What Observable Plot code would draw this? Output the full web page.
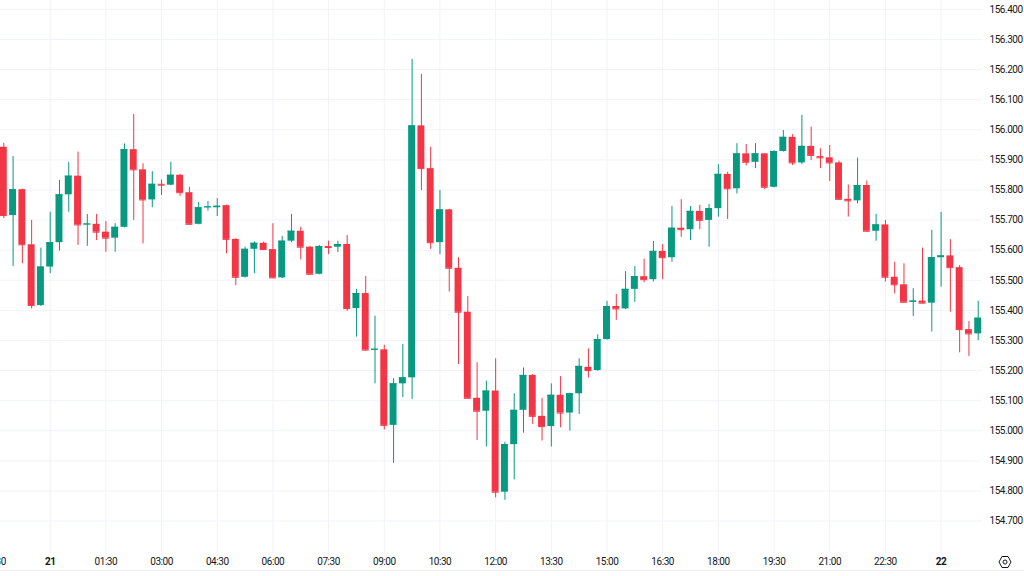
<!DOCTYPE html>
<html><head><meta charset="utf-8">
<script src="https://cdn.jsdelivr.net/npm/d3@7"></script>
<script src="https://cdn.jsdelivr.net/npm/@observablehq/plot@0.6"></script>
<style>
body{margin:0;background:#fff;overflow:hidden}
#wrap{position:relative;width:1024px;height:576px;overflow:hidden}
#wrap svg.plot{overflow:hidden;display:block}
#sep{position:absolute;left:0;top:570px;width:1024px;height:1px;background:#eceef2}
#gear{position:absolute;left:998px;top:555px}
</style></head><body><div id="wrap"><div id="sep"></div></div>
<script>
// 15-minute candles, first candle at 22:45 on the 20th
const startTime = "2024-05-20T22:45:00Z";
const stepMinutes = 15;
const open = [155.942,155.715,155.801,155.618,155.416,155.544,155.625,155.784,155.846,155.684,
155.686,155.660,155.640,155.676,155.934,155.867,155.767,155.819,155.816,155.849,
155.791,155.686,155.741,155.741,155.748,155.636,155.510,155.603,155.623,155.602,
155.508,155.630,155.663,155.610,155.520,155.612,155.610,155.619,155.406,155.456,
155.268,155.269,155.018,155.156,155.176,156.013,155.871,155.625,155.734,155.540,
155.394,155.108,155.065,155.132,154.796,154.954,155.068,155.184,155.048,155.014,
155.118,155.059,155.123,155.211,155.200,155.303,155.413,155.405,155.470,155.512,
155.502,155.596,155.575,155.673,155.668,155.729,155.699,155.738,155.852,155.804,
155.920,155.892,155.920,155.809,155.928,155.975,155.890,155.945,155.911,155.907,
155.890,155.769,155.764,155.815,155.663,155.684,155.510,155.485,155.427,155.431,
155.424,155.575,155.581,155.542,155.336,155.322];
const high = [155.955,155.911,155.803,155.699,155.607,155.726,155.832,155.892,155.926,155.719,
155.719,155.695,155.688,155.953,156.051,155.887,155.861,155.834,155.892,155.852,
155.809,155.759,155.762,155.771,155.750,155.638,155.610,155.628,155.627,155.688,
155.646,155.719,155.676,155.612,155.616,155.630,155.630,155.649,155.470,155.513,
155.381,155.284,155.173,155.287,156.234,156.184,155.942,155.798,155.736,155.575,
155.446,155.226,155.165,155.239,154.962,155.123,155.209,155.187,155.108,155.156,
155.180,155.125,155.239,155.272,155.319,155.430,155.453,155.529,155.546,155.570,
155.629,155.619,155.745,155.768,155.745,155.749,155.752,155.884,155.859,155.954,
155.951,155.954,155.921,155.930,155.998,155.984,156.048,156.009,155.937,155.948,
155.896,155.817,155.906,155.830,155.719,155.699,155.560,155.555,155.472,155.607,
155.666,155.726,155.635,155.549,155.363,155.430];
const low = [155.705,155.546,155.555,155.405,155.413,155.522,155.597,155.726,155.616,155.613,
155.632,155.593,155.593,155.674,155.699,155.621,155.741,155.782,155.814,155.779,
155.684,155.684,155.730,155.712,155.588,155.482,155.508,155.522,155.599,155.506,
155.506,155.625,155.568,155.518,155.518,155.585,155.592,155.397,155.311,155.266,
155.156,155.003,154.892,155.110,155.104,155.798,155.603,155.585,155.461,155.220,
155.106,154.968,154.946,154.777,154.769,154.837,154.992,155.021,154.966,154.946,
155.010,154.999,155.054,155.175,155.198,155.301,155.367,155.403,155.427,155.492,
155.494,155.502,155.560,155.643,155.632,155.668,155.610,155.710,155.702,155.787,
155.880,155.871,155.801,155.807,155.926,155.881,155.884,155.898,155.871,155.828,
155.767,155.710,155.754,155.661,155.630,155.494,155.455,155.425,155.380,155.422,
155.328,155.477,155.394,155.259,155.247,155.300];
const close = [155.715,155.801,155.618,155.416,155.544,155.625,155.784,155.846,155.684,155.687,
155.660,155.640,155.676,155.934,155.867,155.767,155.819,155.816,155.849,155.791,
155.686,155.741,155.744,155.746,155.636,155.510,155.603,155.623,155.602,155.508,
155.630,155.663,155.610,155.520,155.612,155.609,155.619,155.406,155.456,155.268,
155.271,155.018,155.156,155.176,156.013,155.871,155.625,155.734,155.540,155.394,
155.108,155.065,155.132,154.796,154.954,155.068,155.184,155.048,155.014,155.118,
155.059,155.123,155.214,155.200,155.303,155.413,155.405,155.470,155.512,155.502,
155.596,155.575,155.673,155.668,155.729,155.699,155.738,155.852,155.804,155.920,
155.892,155.920,155.809,155.928,155.975,155.890,155.945,155.915,155.907,155.890,
155.769,155.764,155.815,155.663,155.684,155.510,155.485,155.427,155.431,155.424,
155.575,155.581,155.542,155.336,155.322,155.374];

const priceTicks = [154.7,154.8,154.9,155.0,155.1,155.2,155.3,155.4,155.5,155.6,155.7,155.8,155.9,156.0,156.1,156.2,156.3,156.4];
const timeTicks = ["2024-05-20T22:30Z","2024-05-21T00:00Z","2024-05-21T01:30Z","2024-05-21T03:00Z","2024-05-21T04:30Z",
"2024-05-21T06:00Z","2024-05-21T07:30Z","2024-05-21T09:00Z","2024-05-21T10:30Z","2024-05-21T12:00Z",
"2024-05-21T13:30Z","2024-05-21T15:00Z","2024-05-21T16:30Z","2024-05-21T18:00Z","2024-05-21T19:30Z",
"2024-05-21T21:00Z","2024-05-21T22:30Z","2024-05-22T00:00Z"];
const xDomain = ["2024-05-20T22:39:40Z","2024-05-22T01:06:56Z"];
const yDomain = [154.589, 156.4296];

const UP = "#089981", DOWN = "#f23645";
const t0 = new Date(startTime).getTime();
const halfBody = 5.6 * 60000;
const candles = open.map((o, i) => {
  const t = new Date(t0 + i * stepMinutes * 60000);
  return {t, t1: new Date(+t - halfBody), t2: new Date(+t + halfBody),
    open: o, high: high[i], low: low[i], close: close[i],
    color: close[i] >= o ? UP : DOWN};
});
const tickDates = timeTicks.map(d => new Date(d));
const isDay = d => d.getUTCHours() === 0 && d.getUTCMinutes() === 0;
const dayTicks = tickDates.filter(isDay);
const hourTicks = tickDates.filter(d => !isDay(d));
const fmtHM = d3.utcFormat("%H:%M");

const chart = Plot.plot({
  width: 1024, height: 576,
  marginLeft: 0, marginRight: 42, marginTop: 0, marginBottom: 22,
  style: {fontFamily: "Roboto, 'Noto Sans', sans-serif", fontSize: "10px", letterSpacing: "-0.45px", color: "#131722", background: "#fff"},
  x: {type: "utc", domain: xDomain.map(d => new Date(d)), axis: null},
  y: {domain: yDomain, axis: null},
  marks: [
    Plot.gridY(priceTicks, {stroke: "#f0f3fa", strokeOpacity: 1}),
    Plot.gridX(tickDates, {stroke: "#f0f3fa", strokeOpacity: 1}),
    Plot.axisY(priceTicks, {anchor: "right", tickSize: 0, tickPadding: 7, tickFormat: d => d.toFixed(3), fill: "#131722"}),
    Plot.axisX(hourTicks, {anchor: "bottom", tickSize: 0, tickPadding: 3, tickFormat: fmtHM, fill: "#131722"}),
    Plot.axisX(dayTicks, {anchor: "bottom", tickSize: 0, tickPadding: 3, tickFormat: d => String(d.getUTCDate()), fill: "#131722", fontWeight: "bold"}),
    Plot.ruleX(candles, {x: "t", y1: "low", y2: "high", stroke: "color", strokeWidth: 1}),
    Plot.rect(candles, {x1: "t1", x2: "t2", y1: "open", y2: "close", fill: "color"}),
    Plot.ruleY(candles, {x1: "t1", x2: "t2", y: "close", stroke: "color", strokeWidth: 1})
  ]
});
const wrap = document.getElementById("wrap");
wrap.insertBefore(chart, wrap.firstChild);
// settings icon (decorative)
wrap.insertAdjacentHTML("beforeend",
  '<svg id="gear" width="14" height="14" viewBox="0 0 14 14"><path d="M4 1.5h6l3 5.5-3 5.5H4L1 7z" fill="none" stroke="#131722" stroke-width="1"/><circle cx="7" cy="7" r="2" fill="none" stroke="#131722" stroke-width="1"/></svg>');
</script>
</body></html>
